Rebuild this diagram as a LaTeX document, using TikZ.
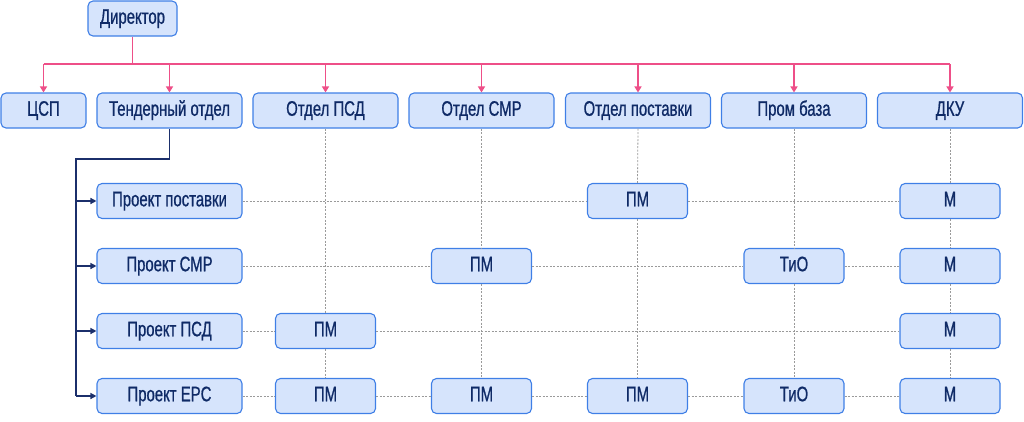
\documentclass[tikz,border=0pt]{standalone}
\usepackage{fontspec}
\setmainfont{Liberation Sans}[FakeStretch=0.71, FakeBold=0.8]
\usetikzlibrary{arrows.meta}
\definecolor{boxfill}{HTML}{D6E4FC}
\definecolor{boxdraw}{HTML}{3F7FE6}
\definecolor{txt}{HTML}{0F2A66}
\definecolor{pink}{HTML}{EE4F88}
\definecolor{navy}{HTML}{1B2F6B}
\definecolor{dotc}{HTML}{9A9A9A}
\tikzset{
  box/.style={draw=boxdraw, fill=boxfill, line width=1.1pt, rounded corners=5pt, text=txt,
    font=\fontsize{21}{23}\selectfont, inner sep=0pt, minimum height=35pt,
    text height=1.05em, text depth=0pt},
  dept/.style={box, minimum width=145pt},
  small/.style={box, minimum width=100pt},
  pinkline/.style={draw=pink, line width=1.4pt},
  pinkarr/.style={pinkline, -{Triangle[length=6pt,width=7pt]}},
  navyline/.style={draw=navy, line width=1.4pt},
  navyarr/.style={navyline, -{Triangle[length=6pt,width=6pt]}},
  dotline/.style={draw=dotc, line width=0.8pt, dash pattern=on 2pt off 1.5pt}
}
\begin{document}
\begin{tikzpicture}[x=1pt,y=-1pt]
\useasboundingbox (0,0) rectangle (1024,421);
% top row
\node[box, minimum width=89pt] (dir) at (132.5,18.5) {Директор};
\node[box, minimum width=85pt] (csp) at (43.5,110.5) {ЦСП};
\node[dept] (tend) at (169.5,110.5) {Тендерный отдел};
\node[dept] (psd) at (325.5,110.5) {Отдел ПСД};
\node[dept] (smr) at (481.5,110.5) {Отдел СМР};
\node[dept] (post) at (638,110.5) {Отдел поставки};
\node[dept] (prom) at (794,110.5) {Пром база};
\node[dept] (dku) at (950,110.5) {ДКУ};
% project rows
\node[dept] (p1) at (169.5,201) {Проект поставки};
\node[dept] (p2) at (169.5,266) {Проект СМР};
\node[dept] (p3) at (169.5,331) {Проект ПСД};
\node[dept] (p4) at (169.5,396) {Проект EPC};
% row 1
\node[small] (r1post) at (637.5,201) {ПМ};
\node[small] (r1dku) at (950,201) {М};
% row 2
\node[small] (r2smr) at (481.5,266) {ПМ};
\node[small] (r2prom) at (794,266) {ТиО};
\node[small] (r2dku) at (950,266) {М};
% row 3
\node[small] (r3psd) at (325.5,331) {ПМ};
\node[small] (r3dku) at (950,331) {М};
% row 4
\node[small] (r4psd) at (325.5,396) {ПМ};
\node[small] (r4smr) at (481.5,396) {ПМ};
\node[small] (r4post) at (637.5,396) {ПМ};
\node[small] (r4prom) at (794,396) {ТиО};
\node[small] (r4dku) at (950,396) {М};
% dotted connectors
\draw[dotline] (psd.south) -- (r3psd.north);
\draw[dotline] (r3psd.south) -- (r4psd.north);
\draw[dotline] (smr.south) -- (r2smr.north);
\draw[dotline] (r2smr.south) -- (r4smr.north);
\draw[dotline] (post.south) -- (r1post.north);
\draw[dotline] (r1post.south) -- (r4post.north);
\draw[dotline] (prom.south) -- (r2prom.north);
\draw[dotline] (r2prom.south) -- (r4prom.north);
\draw[dotline] (dku.south) -- (r1dku.north);
\draw[dotline] (r1dku.south) -- (r2dku.north);
\draw[dotline] (r2dku.south) -- (r3dku.north);
\draw[dotline] (r3dku.south) -- (r4dku.north);
\draw[dotline] (p1.east) -- (r1post.west);
\draw[dotline] (r1post.east) -- (r1dku.west);
\draw[dotline] (p2.east) -- (r2smr.west);
\draw[dotline] (r2smr.east) -- (r2prom.west);
\draw[dotline] (r2prom.east) -- (r2dku.west);
\draw[dotline] (p3.east) -- (r3psd.west);
\draw[dotline] (r3psd.east) -- (r3dku.west);
\draw[dotline] (p4.east) -- (r4psd.west);
\draw[dotline] (r4psd.east) -- (r4smr.west);
\draw[dotline] (r4smr.east) -- (r4post.west);
\draw[dotline] (r4post.east) -- (r4prom.west);
\draw[dotline] (r4prom.east) -- (r4dku.west);
% pink tree
\coordinate (bus) at (132.5,64);
\draw[pinkline] (dir.south) -- (bus);
\draw[pinkline] (csp.north |- bus) -- (dku.north |- bus);
\foreach \n in {csp,tend,psd,smr,post,prom,dku}
  \draw[pinkarr] (\n.north |- bus) -- (\n.north);
% navy tree
\coordinate (nv) at (76,159);
\draw[navyline] (tend.south) |- (nv) -- (nv |- p4.west);
\foreach \n in {p1,p2,p3,p4}
  \draw[navyarr] (nv |- \n.west) -- (\n.west);
\end{tikzpicture}
\end{document}
